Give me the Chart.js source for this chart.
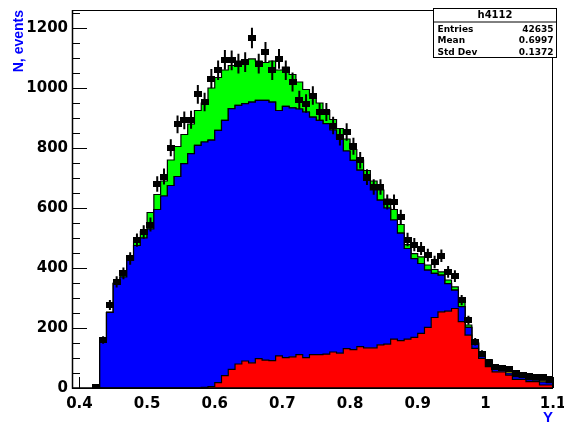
<!DOCTYPE html>
<html><head><meta charset="utf-8">
<script src="https://cdn.jsdelivr.net/npm/chart.js@4.4.1/dist/chart.umd.min.js"></script>
<style>html,body{margin:0;padding:0;background:#fff}#wrap{width:564px;height:423px;position:relative}</style>
</head><body><div id="wrap"><canvas id="c" width="564" height="423"></canvas></div>
<script>
// bin edges (lower edges of bins 0.42 ... 1.09, plus final upper edge 1.10)
const binEdges = [0.42,0.43,0.44,0.45,0.46,0.47,0.48,0.49,0.50,0.51,0.52,0.53,0.54,0.55,0.56,0.57,0.58,0.59,0.60,0.61,0.62,0.63,0.64,0.65,0.66,0.67,0.68,0.69,0.70,0.71,0.72,0.73,0.74,0.75,0.76,0.77,0.78,0.79,0.80,0.81,0.82,0.83,0.84,0.85,0.86,0.87,0.88,0.89,0.90,0.91,0.92,0.93,0.94,0.95,0.96,0.97,0.98,0.99,1.00,1.01,1.02,1.03,1.04,1.05,1.06,1.07,1.08,1.09,1.10];
// stacked components (bottom -> top)
const redVals = [0,0,0,0,0,0,0,0,0,0,0,0,0,0,0,0,
  2,5,18,41,62,80,90,84,98,93,
  91,107,101,104,111,101,111,111,113,120,
  116,131,128,138,134,134,144,146,163,158,
  163,169,182,202,235,254,256,265,221,176,
  132,99,71,54,54,43,29,29,21,21,
  10,10];
const blueVals = [0,160,252,349,370,425,475,500,530,595,640,675,705,748,781,809,
  818,821,841,851,869,862,858,869,861,866,
  862,818,838,830,819,819,792,781,768,740,
  715,659,631,588,558,526,482,454,397,358,
  302,262,233,191,147,122,92,61,50,26,
  17,16,22,17,8,7,9,6,7,5,
  10,8];
const yellowVals = [0,0,0,0,0,0,0,0,0,0,0,0,0,0,0,0,
  0,0,0,0,0,0,0,0,0,0,
  0,0,0,0,0,0,0,0,0,0,
  0,0,0,0,0,0,0,0,0,0,
  0,0,0,0,0,0,0,0,0,0,
  0,0,0,2,4,5,5,5,4,4,
  4,4];
const greenVals = [0,0,0,0,6,7,15,22,55,50,50,85,100,97,99,116,
  130,174,176,168,144,148,147,144,131,126,
  137,135,131,111,90,75,72,58,44,35,
  34,40,36,34,33,30,34,30,35,29,
  13,17,22,17,13,11,12,11,16,8,
  3,2,2,0,0,0,0,0,0,0,
  0,0];
const dataVals = [3,160,277,354,382,432,493,520,545,680,705,801,879,892,894,979,
  953,1031,1059,1094,1092,1081,1086,1167,1081,1120,
  1059,1097,1059,1020,960,948,975,920,920,875,
  837,853,806,759,703,670,670,620,620,570,
  495,478,465,443,420,441,387,373,293,226,
  154,115,84,71,66,65,49,43,40,38,
  38,30];
const xTicks = [0.4,0.5,0.6,0.7,0.8,0.9,1.0,1.1];
const xTickLabels = ['0.4','0.5','0.6','0.7','0.8','0.9','1','1.1'];
const yTicks = [0,200,400,600,800,1000,1200];
const yTickLabels = ['0','200','400','600','800','1000','1200'];
const yMinorStep = 50;
const statTitle = 'h4112';
const statLabels = ['Entries','Mean','Std Dev'];
const statValues = ['42635','0.6997','0.1372'];

const X_MIN = 0.389, X_MAX = 1.1, Y_MAX = 1260;

function stepData(vals){
  return binEdges.map((e,i)=>({x:e, y: i<vals.length ? vals[i] : vals[vals.length-1]}));
}
const centers = dataVals.map((v,i)=>(binEdges[i]+binEdges[i+1])/2);

// marker image
const mk = document.createElement('canvas');
mk.width = 8; mk.height = 6;
(function(){const c=mk.getContext('2d');c.fillStyle='#000';c.fillRect(0,0,8,6);})();

const axisPlugin = {
  id:'rootAxes',
  beforeDatasetsDraw(chart){
    const {ctx, chartArea:a, scales:{x,y}} = chart;
    ctx.save();
    ctx.strokeStyle='#000'; ctx.lineWidth=1;
    ctx.beginPath();
    for(let v=0; v<=Y_MAX; v+=yMinorStep){
      const py = Math.round(y.getPixelForValue(v))+0.5;
      const len = (v%200===0)?15:8;
      ctx.moveTo(a.left, py); ctx.lineTo(a.left+len, py);
    }
    xTicks.forEach(v=>{
      const px = Math.round(x.getPixelForValue(v))+0.5;
      ctx.moveTo(px, a.bottom); ctx.lineTo(px, a.bottom-11);
    });
    ctx.stroke();
    ctx.restore();
  },
  beforeDatasetDraw(chart,args){
    if(args.index!==4) return;
    const {ctx, scales:{x,y}} = chart;
    ctx.save();
    ctx.strokeStyle='#000'; ctx.lineWidth=2;
    ctx.beginPath();
    dataVals.forEach((v,i)=>{
      if(v<=0) return;
      const e = Math.sqrt(v);
      const px = x.getPixelForValue(centers[i]);
      ctx.moveTo(px, y.getPixelForValue(Math.max(0,v-e)));
      ctx.lineTo(px, y.getPixelForValue(v+e));
      const py = y.getPixelForValue(v);
      ctx.moveTo(x.getPixelForValue(binEdges[i]), py);
      ctx.lineTo(x.getPixelForValue(binEdges[i+1]), py);
    });
    ctx.stroke();
    ctx.restore();
  },
  afterDraw(chart){
    const {ctx, chartArea:a} = chart;
    ctx.save();
    ctx.strokeStyle='#000'; ctx.lineWidth=1;
    ctx.strokeRect(a.left+0.5, a.top+0.5, a.right-a.left-1, a.bottom-a.top);
    ctx.lineWidth=1.5;
    ctx.beginPath(); ctx.moveTo(a.left+0.5,a.top); ctx.lineTo(a.left+0.5,a.bottom); ctx.lineTo(a.right,a.bottom); ctx.stroke();
    // stat box
    const bx=433.5, by=8.5, bw=123, bh=49;
    ctx.fillStyle='#fff'; ctx.fillRect(bx,by,bw,bh);
    ctx.lineWidth=1; ctx.strokeRect(bx,by,bw,bh);
    ctx.beginPath(); ctx.moveTo(bx,by+13.5); ctx.lineTo(bx+bw,by+13.5); ctx.stroke();
    ctx.fillStyle='#000';
    ctx.textBaseline='middle';
    ctx.font='bold 10px "DejaVu Sans"';
    ctx.textAlign='center'; ctx.fillText(statTitle, bx+bw/2, by+7);
    ctx.font='bold 9px "DejaVu Sans"';
    statLabels.forEach((l,i)=>{
      const ty = by + 21 + i*11.5;
      ctx.textAlign='left'; ctx.fillText(l, bx+4, ty);
      ctx.textAlign='right'; ctx.fillText(statValues[i], bx+bw-3, ty);
    });
    ctx.restore();
  }
};

const comp = (label, vals, color, fill) => ({
  type:'line', label, data: stepData(vals), stepped:true, fill,
  backgroundColor: color, borderColor:'#000', borderWidth:1.2,
  pointRadius:0, stack:'mc', order:0, tension:0
});

new Chart(document.getElementById('c'), {
  type:'line',
  data:{datasets:[
    comp('red', redVals, '#ff0000', 'origin'),
    comp('blue', blueVals, '#0000ff', '-1'),
    comp('yellow', yellowVals, '#ffff00', '-1'),
    comp('green', greenVals, '#00ff00', '-1'),
    {type:'line', label:'data', data: dataVals.map((v,i)=>({x:centers[i], y:v})),
     showLine:false, pointStyle: mk, pointRadius:4, stack:'data', order:-1}
  ]},
  options:{
    responsive:false, animation:false, events:[],
    layout:{padding:{left:0,right:11,top:10,bottom:0}},
    plugins:{legend:{display:false}, tooltip:{enabled:false}},
    scales:{
      x:{type:'linear', min:X_MIN, max:X_MAX,
         grid:{display:false, drawTicks:false}, border:{display:false},
         afterBuildTicks(s){ s.ticks = xTicks.map(v=>({value:v})); },
         afterFit(s){ s.height=35; s.paddingLeft=0; s.paddingRight=0; },
         ticks:{autoSkip:false, maxRotation:0, padding:7, color:'#000',
           font:{family:'DejaVu Sans', weight:'bold', size:15},
           callback:(v)=>{const i=xTicks.indexOf(v); return i>=0?xTickLabels[i]:'';}},
         title:{display:true, text:'Y', align:'end', color:'#0000ff',
           font:{family:'Liberation Sans', weight:'bold', size:15, lineHeight:1}, padding:{top:0,bottom:-2}}
      },
      y:{type:'linear', min:0, max:Y_MAX, stacked:true,
         grid:{display:false, drawTicks:false}, border:{display:false},
         afterBuildTicks(s){ s.ticks = yTicks.map(v=>({value:v})); },
         afterFit(s){ s.width=72; s.paddingTop=0; s.paddingBottom=0; },
         ticks:{padding:4, color:'#000', font:{family:'DejaVu Sans', weight:'bold', size:15},
           callback:(v)=>{const i=yTicks.indexOf(v); return i>=0?yTickLabels[i]:'';}},
         title:{display:true, text:'N, events', align:'end', color:'#0000ff',
           font:{family:'Liberation Sans', weight:'bold', size:14, lineHeight:1.2}, padding:{top:11,bottom:0}}
      }
    }
  },
  plugins:[axisPlugin]
});
</script></body></html>
